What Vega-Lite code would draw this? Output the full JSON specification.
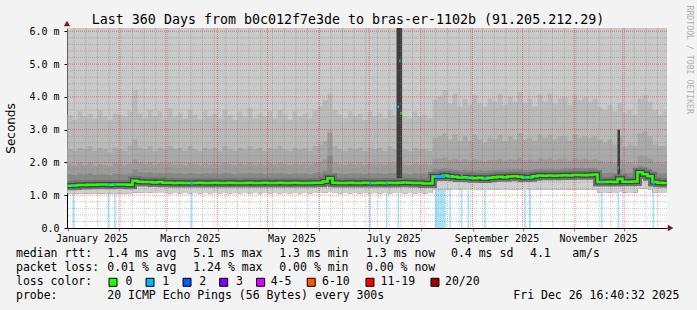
{
"$schema":"https://vega.github.io/schema/vega-lite/v6.json",
"width":600,"height":200,
"autosize":{"type":"none"},
"padding":{"left":67,"top":28,"right":30,"bottom":82},
"background":"#f3f3f3",
"title":{"text":"Last 360 Days from b0c012f7e3de to bras-er-1102b (91.205.212.29)","font":"DejaVu Sans Mono","fontSize":13.3,"fontWeight":"normal","color":"#000000","anchor":"middle","dx":-19,"offset":-32,"baseline":"alphabetic"},
"config":{"view":{"stroke":null,"fill":"#ffffff"},"axis":{"labelFont":"DejaVu Sans Mono","labelFontSize":10,"labelColor":"#000000","domainColor":"#000000","grid":false},"axisLeft":{"tickCount":7,"labelOverlap":false}},
"resolve":{"scale":{"x":"independent","y":"independent"}},
"datasets":{
"smoke":[
{"t":"2025-01-01","m":1.29,"lo":1.06,"a":3.45,"b":2.40,"c":1.95,"d":1.65},
{"t":"2025-01-04","m":1.30,"lo":1.05,"a":3.30,"b":2.35,"c":1.90,"d":1.62},
{"t":"2025-01-07","m":1.31,"lo":1.06,"a":3.55,"b":2.45,"c":1.98,"d":1.66},
{"t":"2025-01-10","m":1.31,"lo":1.05,"a":3.40,"b":2.40,"c":1.92,"d":1.63},
{"t":"2025-01-13","m":1.32,"lo":1.06,"a":3.50,"b":2.50,"c":2.00,"d":1.67},
{"t":"2025-01-16","m":1.32,"lo":1.06,"a":3.35,"b":2.35,"c":1.90,"d":1.62},
{"t":"2025-01-19","m":1.33,"lo":1.05,"a":3.60,"b":2.45,"c":1.95,"d":1.65},
{"t":"2025-01-22","m":1.33,"lo":1.06,"a":3.40,"b":2.40,"c":1.93,"d":1.64},
{"t":"2025-01-25","m":1.32,"lo":1.05,"a":3.30,"b":2.30,"c":1.90,"d":1.62},
{"t":"2025-01-28","m":1.33,"lo":1.06,"a":3.50,"b":2.45,"c":1.97,"d":1.66},
{"t":"2025-01-31","m":1.33,"lo":1.06,"a":3.45,"b":2.40,"c":1.95,"d":1.65},
{"t":"2025-02-03","m":1.33,"lo":1.05,"a":3.40,"b":2.35,"c":1.92,"d":1.63},
{"t":"2025-02-06","m":1.32,"lo":1.06,"a":3.55,"b":2.50,"c":1.96,"d":1.66},
{"t":"2025-02-09","m":1.44,"lo":1.08,"a":4.20,"b":2.70,"c":2.10,"d":1.78},
{"t":"2025-02-12","m":1.41,"lo":1.08,"a":3.50,"b":2.45,"c":1.98,"d":1.70},
{"t":"2025-02-15","m":1.40,"lo":1.07,"a":3.35,"b":2.40,"c":1.95,"d":1.68},
{"t":"2025-02-18","m":1.40,"lo":1.08,"a":3.60,"b":2.50,"c":2.00,"d":1.70},
{"t":"2025-02-21","m":1.39,"lo":1.07,"a":3.40,"b":2.35,"c":1.93,"d":1.66},
{"t":"2025-02-24","m":1.40,"lo":1.07,"a":3.55,"b":2.45,"c":1.97,"d":1.68},
{"t":"2025-02-27","m":1.38,"lo":1.07,"a":3.30,"b":2.40,"c":1.95,"d":1.67},
{"t":"2025-03-02","m":1.38,"lo":1.06,"a":3.65,"b":2.50,"c":1.98,"d":1.68},
{"t":"2025-03-05","m":1.37,"lo":1.07,"a":3.40,"b":2.40,"c":1.94,"d":1.66},
{"t":"2025-03-08","m":1.38,"lo":1.06,"a":3.50,"b":2.45,"c":1.96,"d":1.67},
{"t":"2025-03-11","m":1.37,"lo":1.07,"a":3.35,"b":2.35,"c":1.92,"d":1.65},
{"t":"2025-03-14","m":1.37,"lo":1.06,"a":3.60,"b":2.50,"c":1.98,"d":1.68},
{"t":"2025-03-17","m":1.37,"lo":1.07,"a":3.45,"b":2.40,"c":1.95,"d":1.66},
{"t":"2025-03-20","m":1.38,"lo":1.06,"a":3.30,"b":2.35,"c":1.92,"d":1.65},
{"t":"2025-03-23","m":1.37,"lo":1.07,"a":3.55,"b":2.45,"c":1.97,"d":1.67},
{"t":"2025-03-26","m":1.37,"lo":1.06,"a":3.40,"b":2.40,"c":1.94,"d":1.66},
{"t":"2025-03-29","m":1.38,"lo":1.07,"a":3.50,"b":2.45,"c":1.96,"d":1.67},
{"t":"2025-04-01","m":1.37,"lo":1.06,"a":3.35,"b":2.35,"c":1.93,"d":1.65},
{"t":"2025-04-04","m":1.37,"lo":1.07,"a":3.60,"b":2.50,"c":1.98,"d":1.68},
{"t":"2025-04-07","m":1.38,"lo":1.06,"a":3.45,"b":2.40,"c":1.95,"d":1.66},
{"t":"2025-04-10","m":1.37,"lo":1.07,"a":3.30,"b":2.35,"c":1.92,"d":1.65},
{"t":"2025-04-13","m":1.37,"lo":1.06,"a":3.55,"b":2.45,"c":1.97,"d":1.67},
{"t":"2025-04-16","m":1.37,"lo":1.07,"a":3.40,"b":2.40,"c":1.94,"d":1.66},
{"t":"2025-04-19","m":1.38,"lo":1.06,"a":3.65,"b":2.50,"c":1.99,"d":1.68},
{"t":"2025-04-22","m":1.37,"lo":1.07,"a":3.35,"b":2.40,"c":1.94,"d":1.66},
{"t":"2025-04-25","m":1.37,"lo":1.06,"a":3.50,"b":2.45,"c":1.96,"d":1.67},
{"t":"2025-04-28","m":1.38,"lo":1.07,"a":3.40,"b":2.35,"c":1.93,"d":1.65},
{"t":"2025-05-01","m":1.37,"lo":1.06,"a":3.55,"b":2.45,"c":1.97,"d":1.67},
{"t":"2025-05-04","m":1.37,"lo":1.07,"a":3.35,"b":2.40,"c":1.94,"d":1.66},
{"t":"2025-05-07","m":1.38,"lo":1.06,"a":3.60,"b":2.50,"c":1.98,"d":1.68},
{"t":"2025-05-10","m":1.37,"lo":1.07,"a":3.45,"b":2.40,"c":1.95,"d":1.66},
{"t":"2025-05-13","m":1.37,"lo":1.06,"a":3.30,"b":2.35,"c":1.92,"d":1.65},
{"t":"2025-05-16","m":1.38,"lo":1.07,"a":3.55,"b":2.45,"c":1.97,"d":1.67},
{"t":"2025-05-19","m":1.37,"lo":1.06,"a":3.40,"b":2.40,"c":1.94,"d":1.66},
{"t":"2025-05-22","m":1.37,"lo":1.07,"a":3.50,"b":2.45,"c":1.96,"d":1.67},
{"t":"2025-05-25","m":1.37,"lo":1.06,"a":3.35,"b":2.35,"c":1.93,"d":1.65},
{"t":"2025-05-28","m":1.38,"lo":1.07,"a":3.60,"b":2.50,"c":1.98,"d":1.68},
{"t":"2025-05-31","m":1.38,"lo":1.07,"a":3.70,"b":2.55,"c":2.00,"d":1.70},
{"t":"2025-06-03","m":1.42,"lo":1.08,"a":3.90,"b":2.65,"c":2.10,"d":1.75},
{"t":"2025-06-06","m":1.52,"lo":1.10,"a":4.10,"b":3.00,"c":2.90,"d":2.20},
{"t":"2025-06-09","m":1.38,"lo":1.07,"a":3.60,"b":2.50,"c":1.98,"d":1.68},
{"t":"2025-06-12","m":1.37,"lo":1.06,"a":3.45,"b":2.40,"c":1.95,"d":1.66},
{"t":"2025-06-15","m":1.37,"lo":1.07,"a":3.35,"b":2.35,"c":1.92,"d":1.65},
{"t":"2025-06-18","m":1.38,"lo":1.06,"a":3.55,"b":2.45,"c":1.97,"d":1.67},
{"t":"2025-06-21","m":1.37,"lo":1.07,"a":3.40,"b":2.40,"c":1.94,"d":1.66},
{"t":"2025-06-24","m":1.37,"lo":1.06,"a":3.50,"b":2.45,"c":1.96,"d":1.67},
{"t":"2025-06-27","m":1.38,"lo":1.07,"a":3.30,"b":2.35,"c":1.92,"d":1.65},
{"t":"2025-06-30","m":1.37,"lo":1.06,"a":3.55,"b":2.45,"c":1.97,"d":1.67},
{"t":"2025-07-03","m":1.37,"lo":1.07,"a":3.40,"b":2.40,"c":1.94,"d":1.66},
{"t":"2025-07-06","m":1.38,"lo":1.06,"a":3.50,"b":2.45,"c":1.96,"d":1.67},
{"t":"2025-07-09","m":1.37,"lo":1.07,"a":3.35,"b":2.35,"c":1.93,"d":1.65},
{"t":"2025-07-12","m":1.38,"lo":1.06,"a":3.60,"b":2.50,"c":1.98,"d":1.68},
{"t":"2025-07-15","m":1.37,"lo":1.07,"a":3.45,"b":2.40,"c":1.95,"d":1.66},
{"t":"2025-07-18","m":1.38,"lo":1.07,"a":3.50,"b":2.45,"c":1.96,"d":1.67},
{"t":"2025-07-21","m":1.39,"lo":1.06,"a":3.40,"b":2.40,"c":1.94,"d":1.66},
{"t":"2025-07-24","m":1.38,"lo":1.07,"a":3.35,"b":2.35,"c":1.92,"d":1.65},
{"t":"2025-07-27","m":1.37,"lo":1.06,"a":3.55,"b":2.45,"c":1.97,"d":1.67},
{"t":"2025-07-30","m":1.37,"lo":1.07,"a":3.40,"b":2.40,"c":1.94,"d":1.66},
{"t":"2025-08-02","m":1.36,"lo":1.06,"a":3.45,"b":2.40,"c":1.95,"d":1.66},
{"t":"2025-08-05","m":1.36,"lo":1.07,"a":3.35,"b":2.35,"c":1.92,"d":1.65},
{"t":"2025-08-08","m":1.57,"lo":1.17,"a":3.90,"b":2.75,"c":2.10,"d":1.80},
{"t":"2025-08-11","m":1.57,"lo":1.18,"a":4.00,"b":2.80,"c":2.12,"d":1.80},
{"t":"2025-08-14","m":1.60,"lo":1.17,"a":4.20,"b":2.90,"c":2.15,"d":1.82},
{"t":"2025-08-17","m":1.58,"lo":1.17,"a":3.80,"b":2.70,"c":2.08,"d":1.79},
{"t":"2025-08-20","m":1.56,"lo":1.16,"a":4.10,"b":2.85,"c":2.12,"d":1.78},
{"t":"2025-08-23","m":1.54,"lo":1.17,"a":3.70,"b":2.65,"c":2.05,"d":1.76},
{"t":"2025-08-26","m":1.55,"lo":1.16,"a":3.95,"b":2.80,"c":2.10,"d":1.77},
{"t":"2025-08-29","m":1.53,"lo":1.16,"a":3.75,"b":2.65,"c":2.05,"d":1.75},
{"t":"2025-09-01","m":1.52,"lo":1.16,"a":4.05,"b":2.85,"c":2.10,"d":1.75},
{"t":"2025-09-04","m":1.53,"lo":1.17,"a":3.80,"b":2.70,"c":2.06,"d":1.76},
{"t":"2025-09-07","m":1.51,"lo":1.16,"a":3.70,"b":2.60,"c":2.03,"d":1.74},
{"t":"2025-09-10","m":1.53,"lo":1.17,"a":3.95,"b":2.75,"c":2.08,"d":1.76},
{"t":"2025-09-13","m":1.55,"lo":1.17,"a":3.85,"b":2.70,"c":2.07,"d":1.77},
{"t":"2025-09-16","m":1.56,"lo":1.17,"a":4.10,"b":2.85,"c":2.12,"d":1.78},
{"t":"2025-09-19","m":1.55,"lo":1.16,"a":3.75,"b":2.65,"c":2.05,"d":1.77},
{"t":"2025-09-22","m":1.57,"lo":1.17,"a":4.00,"b":2.80,"c":2.10,"d":1.79},
{"t":"2025-09-25","m":1.58,"lo":1.17,"a":3.85,"b":2.70,"c":2.08,"d":1.80},
{"t":"2025-09-28","m":1.56,"lo":1.17,"a":4.15,"b":2.90,"c":2.14,"d":1.79},
{"t":"2025-10-01","m":1.54,"lo":1.16,"a":3.80,"b":2.70,"c":2.07,"d":1.77},
{"t":"2025-10-04","m":1.55,"lo":1.17,"a":3.95,"b":2.75,"c":2.09,"d":1.78},
{"t":"2025-10-07","m":1.58,"lo":1.17,"a":3.70,"b":2.65,"c":2.05,"d":1.79},
{"t":"2025-10-10","m":1.60,"lo":1.18,"a":4.05,"b":2.85,"c":2.12,"d":1.81},
{"t":"2025-10-13","m":1.59,"lo":1.17,"a":3.85,"b":2.75,"c":2.08,"d":1.80},
{"t":"2025-10-16","m":1.60,"lo":1.18,"a":4.10,"b":2.85,"c":2.13,"d":1.81},
{"t":"2025-10-19","m":1.59,"lo":1.17,"a":3.80,"b":2.70,"c":2.07,"d":1.80},
{"t":"2025-10-22","m":1.60,"lo":1.18,"a":3.95,"b":2.80,"c":2.10,"d":1.81},
{"t":"2025-10-25","m":1.61,"lo":1.18,"a":4.00,"b":2.80,"c":2.11,"d":1.82},
{"t":"2025-10-28","m":1.60,"lo":1.17,"a":3.75,"b":2.65,"c":2.06,"d":1.81},
{"t":"2025-10-31","m":1.62,"lo":1.18,"a":4.05,"b":2.85,"c":2.12,"d":1.83},
{"t":"2025-11-03","m":1.62,"lo":1.18,"a":3.90,"b":2.75,"c":2.09,"d":1.83},
{"t":"2025-11-06","m":1.61,"lo":1.18,"a":4.00,"b":2.80,"c":2.11,"d":1.82},
{"t":"2025-11-09","m":1.62,"lo":1.18,"a":3.85,"b":2.75,"c":2.08,"d":1.83},
{"t":"2025-11-12","m":1.63,"lo":1.18,"a":3.95,"b":2.80,"c":2.10,"d":1.84},
{"t":"2025-11-15","m":1.40,"lo":1.08,"a":3.70,"b":2.70,"c":2.05,"d":1.70},
{"t":"2025-11-18","m":1.40,"lo":1.07,"a":3.60,"b":2.60,"c":2.00,"d":1.68},
{"t":"2025-11-21","m":1.41,"lo":1.08,"a":3.75,"b":2.70,"c":2.03,"d":1.69},
{"t":"2025-11-24","m":1.40,"lo":1.07,"a":3.55,"b":2.55,"c":1.98,"d":1.67},
{"t":"2025-11-27","m":1.50,"lo":1.10,"a":3.80,"b":2.80,"c":2.10,"d":1.80},
{"t":"2025-11-30","m":1.41,"lo":1.08,"a":3.50,"b":2.50,"c":1.97,"d":1.68},
{"t":"2025-12-03","m":1.41,"lo":1.07,"a":3.60,"b":2.55,"c":1.99,"d":1.68},
{"t":"2025-12-06","m":1.42,"lo":1.08,"a":3.45,"b":2.50,"c":1.96,"d":1.67},
{"t":"2025-12-09","m":1.70,"lo":1.20,"a":3.95,"b":2.90,"c":2.20,"d":1.90},
{"t":"2025-12-12","m":1.64,"lo":1.20,"a":4.05,"b":2.95,"c":2.18,"d":1.86},
{"t":"2025-12-15","m":1.58,"lo":1.18,"a":3.85,"b":2.80,"c":2.12,"d":1.80},
{"t":"2025-12-18","m":1.40,"lo":1.08,"a":3.60,"b":2.55,"c":1.98,"d":1.68},
{"t":"2025-12-21","m":1.38,"lo":1.07,"a":3.45,"b":2.50,"c":1.96,"d":1.67},
{"t":"2025-12-24","m":1.37,"lo":1.07,"a":3.55,"b":2.50,"c":1.97,"d":1.67},
{"t":"2025-12-27","m":1.37,"lo":1.07,"a":3.55,"b":2.50,"c":1.97,"d":1.67}
],
"lossbars":[
{"s":"2025-01-04","e":"2025-01-05"},{"s":"2025-01-25","e":"2025-01-26"},{"s":"2025-01-29","e":"2025-01-30"},
{"s":"2025-03-16","e":"2025-03-17"},{"s":"2025-07-01","e":"2025-07-02"},{"s":"2025-07-11","e":"2025-07-12"},
{"s":"2025-07-18","e":"2025-07-19"},{"s":"2025-08-09T12:00:00Z","e":"2025-08-16"},{"s":"2025-08-18","e":"2025-08-19"},
{"s":"2025-08-25","e":"2025-08-26"},{"s":"2025-08-29","e":"2025-08-30"},{"s":"2025-09-08","e":"2025-09-09"},
{"s":"2025-10-02","e":"2025-10-03"},{"s":"2025-10-05","e":"2025-10-06"},{"s":"2025-11-17","e":"2025-11-18"},
{"s":"2025-11-27","e":"2025-11-28"},{"s":"2025-12-18","e":"2025-12-19"}
],
"segs":[
{"s":"2025-01-04","e":"2025-01-05","m":1.30,"l":"1"},
{"s":"2025-01-25","e":"2025-01-26","m":1.32,"l":"1"},
{"s":"2025-01-29","e":"2025-01-30","m":1.33,"l":"1"},
{"s":"2025-03-16","e":"2025-03-17","m":1.37,"l":"1"},
{"s":"2025-07-01","e":"2025-07-02","m":1.37,"l":"1"},
{"s":"2025-07-11","e":"2025-07-12","m":1.38,"l":"1"},
{"s":"2025-07-18T00:00:00Z","e":"2025-07-19T00:00:00Z","m":3.7,"l":"1"},
{"s":"2025-07-19T00:00:00Z","e":"2025-07-19T18:00:00Z","m":5.1,"l":"1"},
{"s":"2025-07-19T18:00:00Z","e":"2025-07-20T12:00:00Z","m":3.5,"l":"0"},
{"s":"2025-08-09T12:00:00Z","e":"2025-08-15T12:00:00Z","m":1.57,"l":"1"},
{"s":"2025-08-18","e":"2025-08-19","m":1.58,"l":"1"},
{"s":"2025-08-25","e":"2025-08-26","m":1.60,"l":"1"},
{"s":"2025-08-29","e":"2025-08-30","m":1.53,"l":"1"},
{"s":"2025-09-08","e":"2025-09-09","m":1.51,"l":"1"},
{"s":"2025-10-02","e":"2025-10-03","m":1.54,"l":"1"},
{"s":"2025-10-05","e":"2025-10-06","m":1.55,"l":"1"},
{"s":"2025-11-17","e":"2025-11-18","m":1.40,"l":"1"},
{"s":"2025-11-27","e":"2025-11-27T18:00:00Z","m":1.84,"l":"1"},
{"s":"2025-12-18","e":"2025-12-19","m":1.38,"l":"1"}
],
"spikes":[
{"s":"2025-07-17T10:00:00Z","e":"2025-07-20T18:00:00Z","lo":1.45,"hi":6.1},
{"s":"2025-11-27T00:00:00Z","e":"2025-11-28T12:00:00Z","lo":1.45,"hi":3.0}
],
"weeks":[
{"t":"2025-01-05"},{"t":"2025-01-12"},{"t":"2025-01-19"},{"t":"2025-01-26"},{"t":"2025-02-02"},{"t":"2025-02-09"},{"t":"2025-02-16"},{"t":"2025-02-23"},
{"t":"2025-03-02"},{"t":"2025-03-09"},{"t":"2025-03-16"},{"t":"2025-03-23"},{"t":"2025-03-30"},{"t":"2025-04-06"},{"t":"2025-04-13"},{"t":"2025-04-20"},
{"t":"2025-04-27"},{"t":"2025-05-04"},{"t":"2025-05-11"},{"t":"2025-05-18"},{"t":"2025-05-25"},{"t":"2025-06-01"},{"t":"2025-06-08"},{"t":"2025-06-15"},
{"t":"2025-06-22"},{"t":"2025-06-29"},{"t":"2025-07-06"},{"t":"2025-07-13"},{"t":"2025-07-20"},{"t":"2025-07-27"},{"t":"2025-08-03"},{"t":"2025-08-10"},
{"t":"2025-08-17"},{"t":"2025-08-24"},{"t":"2025-08-31"},{"t":"2025-09-07"},{"t":"2025-09-14"},{"t":"2025-09-21"},{"t":"2025-09-28"},{"t":"2025-10-05"},
{"t":"2025-10-12"},{"t":"2025-10-19"},{"t":"2025-10-26"},{"t":"2025-11-02"},{"t":"2025-11-09"},{"t":"2025-11-16"},{"t":"2025-11-23"},{"t":"2025-11-30"},
{"t":"2025-12-07"},{"t":"2025-12-14"},{"t":"2025-12-21"}
],
"months":[
{"t":"2025-02-01"},{"t":"2025-03-01"},{"t":"2025-04-01"},{"t":"2025-05-01"},{"t":"2025-06-01"},{"t":"2025-07-01"},
{"t":"2025-08-01"},{"t":"2025-09-01"},{"t":"2025-10-01"},{"t":"2025-11-01"},{"t":"2025-12-01"}
],
"hminor":[
{"v":0.2},{"v":0.4},{"v":0.6},{"v":0.8},{"v":1.2},{"v":1.4},{"v":1.6},{"v":1.8},{"v":2.2},{"v":2.4},{"v":2.6},{"v":2.8},
{"v":3.2},{"v":3.4},{"v":3.6},{"v":3.8},{"v":4.2},{"v":4.4},{"v":4.6},{"v":4.8},{"v":5.2},{"v":5.4},{"v":5.6},{"v":5.8}
],
"hmajor":[{"v":1},{"v":2},{"v":3},{"v":4},{"v":5},{"v":6}],
"arrows":[{"t":"2025-12-28T20:00:00Z","v":0,"k":"x"},{"t":"2024-12-31T16:40:00Z","v":6.24,"k":"y"}],
"legtext":[
{"r":1,"c":0,"s":"median rtt:"},{"r":1,"c":13.17,"s":"1.4 ms avg"},{"r":1,"c":25.58,"s":"5.1 ms max"},{"r":1,"c":37.99,"s":"1.3 ms min"},
{"r":1,"c":50.5,"s":"1.3 ms now"},{"r":1,"c":62.77,"s":"0.4 ms sd"},{"r":1,"c":74.17,"s":"4.1"},{"r":1,"c":80.27,"s":"am/s"},
{"r":2,"c":0,"s":"packet loss:"},{"r":2,"c":13.17,"s":"0.01 % avg"},{"r":2,"c":25.58,"s":"1.24 % max"},{"r":2,"c":37.99,"s":"0.00 % min"},{"r":2,"c":50.5,"s":"0.00 % now"},
{"r":3,"c":0,"s":"loss color:"},{"r":3,"c":15.8,"s":"0"},{"r":3,"c":21.1,"s":"1"},{"r":3,"c":26.45,"s":"2"},{"r":3,"c":31.75,"s":"3"},
{"r":3,"c":36.75,"s":"4-5"},{"r":3,"c":44.15,"s":"6-10"},{"r":3,"c":52.6,"s":"11-19"},{"r":3,"c":61.9,"s":"20/20"},
{"r":4,"c":0,"s":"probe:"},{"r":4,"c":13.17,"s":"20 ICMP Echo Pings (56 Bytes) every 300s"},{"r":4,"c":71.76,"s":"Fri Dec 26 16:40:32 2025"}
],
"legbox":[
{"r":3,"c":14.0,"k":"0"},{"r":3,"c":19.34,"k":"1"},{"r":3,"c":24.68,"k":"2"},{"r":3,"c":29.97,"k":"3"},
{"r":3,"c":35.3,"k":"4-5"},{"r":3,"c":42.6,"k":"6-10"},{"r":3,"c":51.08,"k":"11-19"},{"r":3,"c":60.46,"k":"20/20"}
]
},
"layer":[
{"layer":[
{"data":{"name":"lossbars"},"mark":{"type":"rect","color":"#a8e2f8","clip":true},
 "encoding":{"x":{"field":"s","type":"temporal"},"x2":{"field":"e"},"y":{"datum":0,"type":"quantitative"},"y2":{"datum":6.1}}},
{"data":{"name":"smoke"},"mark":{"type":"area","interpolate":"step-after","color":"#c9c9c9","clip":true},
 "encoding":{
  "x":{"field":"t","type":"temporal","scale":{"type":"utc","domain":[{"year":2024,"month":12,"date":31,"hours":16,"minutes":40,"utc":true},{"year":2025,"month":12,"date":26,"hours":16,"minutes":40,"utc":true}]},
   "axis":{"title":null,"values":[{"year":2025,"month":1,"date":1,"utc":true},{"year":2025,"month":2,"date":1,"utc":true},{"year":2025,"month":3,"date":1,"utc":true},{"year":2025,"month":4,"date":1,"utc":true},{"year":2025,"month":5,"date":1,"utc":true},{"year":2025,"month":6,"date":1,"utc":true},{"year":2025,"month":7,"date":1,"utc":true},{"year":2025,"month":8,"date":1,"utc":true},{"year":2025,"month":9,"date":1,"utc":true},{"year":2025,"month":10,"date":1,"utc":true},{"year":2025,"month":11,"date":1,"utc":true},{"year":2025,"month":12,"date":1,"utc":true}],
    "labelExpr":"utcmonth(datum.value) % 2 == 0 ? utcFormat(datum.value, '%B %Y') : ''","labelOffset":24,"labelOverlap":false,"labelBound":false,"labelFlush":false,"labelPadding":2,"tickSize":3,"tickColor":"#e06060","grid":false}},
  "y":{"field":"lo","type":"quantitative","scale":{"domain":[0,6.1],"nice":false,"zero":true},
   "axis":{"title":"Seconds","values":[0,1,2,3,4,5,6],"tickCount":7,"labelExpr":"datum.value == 0 ? '0.0' : format(datum.value, '.1f') + ' m'","labelOverlap":false,"labelBound":false,"labelFlush":false,"tickSize":3,"tickColor":"#000000","labelPadding":5,"titleFont":"DejaVu Sans","titleFontSize":12,"titleFontWeight":"normal","titleColor":"#000000","titlePadding":14,"titleBaseline":"alphabetic","grid":false}},
  "y2":{"datum":6.1}}},
{"data":{"name":"smoke"},"mark":{"type":"area","interpolate":"step-after","color":"#bababa","clip":true},
 "encoding":{"x":{"field":"t","type":"temporal"},"y":{"field":"lo","type":"quantitative"},"y2":{"field":"a"}}},
{"data":{"name":"smoke"},"mark":{"type":"area","interpolate":"step-after","color":"#aaaaaa","clip":true},
 "encoding":{"x":{"field":"t","type":"temporal"},"y":{"field":"lo","type":"quantitative"},"y2":{"field":"b"}}},
{"data":{"name":"smoke"},"mark":{"type":"area","interpolate":"step-after","color":"#9b9b9b","clip":true},
 "encoding":{"x":{"field":"t","type":"temporal"},"y":{"field":"lo","type":"quantitative"},"y2":{"field":"c"}}},
{"data":{"name":"smoke"},"mark":{"type":"area","interpolate":"step-after","color":"#888888","clip":true},
 "encoding":{"x":{"field":"t","type":"temporal"},"y":{"field":"lo","type":"quantitative"},"y2":{"field":"d"}}},
{"data":{"name":"smoke"},"mark":{"type":"area","interpolate":"step-after","color":"#d0d0d0","clip":true},
 "encoding":{"x":{"field":"t","type":"temporal"},"y":{"field":"lo","type":"quantitative"},"y2":{"field":"m"}}},
{"data":{"name":"spikes"},"mark":{"type":"rect","color":"#3c3c3c","clip":true},
 "encoding":{"x":{"field":"s","type":"temporal"},"x2":{"field":"e"},"y":{"field":"lo","type":"quantitative"},"y2":{"field":"hi"}}},
{"data":{"name":"weeks"},"mark":{"type":"rule","color":"#808080","opacity":0.45,"strokeDash":[1,1]},
 "encoding":{"x":{"field":"t","type":"temporal"}}},
{"data":{"name":"hminor"},"mark":{"type":"rule","color":"#808080","opacity":0.45,"strokeDash":[1,1]},
 "encoding":{"y":{"field":"v","type":"quantitative"}}},
{"data":{"name":"months"},"mark":{"type":"rule","color":"#ff0000","opacity":0.45,"strokeDash":[1,1]},
 "encoding":{"x":{"field":"t","type":"temporal"}}},
{"data":{"name":"hmajor"},"mark":{"type":"rule","color":"#ff0000","opacity":0.45,"strokeDash":[1,1]},
 "encoding":{"y":{"field":"v","type":"quantitative"}}},
{"data":{"name":"smoke"},"mark":{"type":"line","interpolate":"step-after","color":"#737373","strokeWidth":9,"clip":true},
 "encoding":{"x":{"field":"t","type":"temporal"},"y":{"field":"m","type":"quantitative"}}},
{"data":{"name":"smoke"},"mark":{"type":"line","interpolate":"step-after","color":"#444444","strokeWidth":5,"clip":true},
 "encoding":{"x":{"field":"t","type":"temporal"},"y":{"field":"m","type":"quantitative"}}},
{"data":{"name":"smoke"},"mark":{"type":"line","interpolate":"step-after","color":"#26ff00","strokeWidth":2.5,"clip":true},
 "encoding":{"x":{"field":"t","type":"temporal"},"y":{"field":"m","type":"quantitative"}}},
{"data":{"name":"segs"},"mark":{"type":"rule","strokeWidth":3},
 "encoding":{"x":{"field":"s","type":"temporal"},"x2":{"field":"e"},"y":{"field":"m","type":"quantitative"},
  "color":{"field":"l","type":"nominal","legend":null,"scale":{"domain":["0","1","2","3","4-5","6-10","11-19","20/20"],"range":["#26ff00","#00b8ff","#0059ff","#7e00ff","#dd00ff","#ff5500","#ff0000","#a10000"]}}}},
{"data":{"name":"arrows"},"mark":{"type":"point","filled":true,"size":40,"color":"#8b1010","opacity":1},
 "encoding":{"x":{"field":"t","type":"temporal"},"y":{"field":"v","type":"quantitative"},
  "shape":{"field":"k","type":"nominal","legend":null,"scale":{"domain":["x","y"],"range":["triangle-right","triangle-up"]}}}}
]},
{"layer":[
{"data":{"name":"legtext"},"mark":{"type":"text","align":"left","baseline":"middle","font":"DejaVu Sans Mono","fontSize":11.5,"color":"#000000"},
 "encoding":{"x":{"field":"c","type":"quantitative","scale":{"domain":[7.36,93.94],"nice":false,"zero":false},"axis":null},
  "y":{"field":"r","type":"quantitative","scale":{"domain":[-15.164,-0.878],"reverse":true,"nice":false,"zero":false},
   "axis":{"orient":"right","domain":false,"ticks":false,"labels":false,"grid":false,"title":"RRDTOOL / TOBI OETIKER","titleAngle":90,"titleX":21,"titleY":-23,"titleAlign":"left","titleBaseline":"middle","titleFont":"DejaVu Sans Mono","titleFontSize":8.2,"titleFontWeight":"normal","titleColor":"#b0b0b0"}},
  "text":{"field":"s"}}},
{"data":{"name":"legbox"},"mark":{"type":"square","filled":true,"size":64,"stroke":"#000000","strokeWidth":1,"opacity":1},
 "encoding":{"x":{"field":"c","type":"quantitative"},"y":{"field":"r","type":"quantitative"},
  "color":{"field":"k","type":"nominal","legend":null,"scale":{"domain":["0","1","2","3","4-5","6-10","11-19","20/20"],"range":["#26ff00","#00b8ff","#0059ff","#7e00ff","#dd00ff","#ff5500","#ff0000","#a10000"]}}}}
]}
]
}
